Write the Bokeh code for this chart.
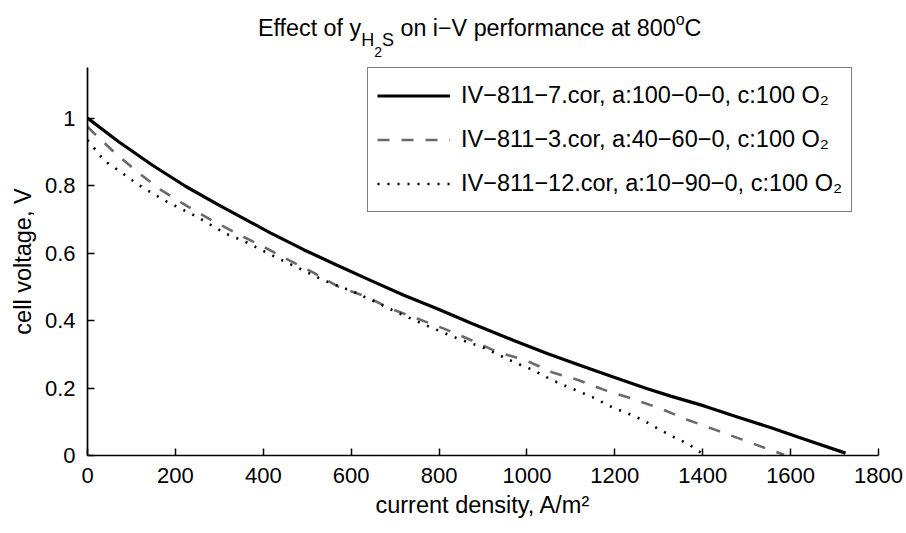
from bokeh.plotting import figure
from bokeh.layouts import column
from bokeh.models import (Legend, LegendItem, FixedTicker, CustomJSTickFormatter,
                          Range1d, Div)
from bokeh.embed import file_html
from bokeh.resources import INLINE

# ---- data ----
i_100 = [0, 71, 147, 223, 299, 375, 416, 492, 568, 644, 720, 796, 872, 970,
         1046, 1122, 1198, 1274, 1327, 1403, 1479, 1554, 1630, 1725]
v_100 = [1.0, 0.930, 0.861, 0.798, 0.742, 0.689, 0.660, 0.610, 0.564, 0.519,
         0.475, 0.435, 0.393, 0.341, 0.302, 0.267, 0.232, 0.198, 0.176, 0.147,
         0.114, 0.083, 0.049, 0.007]

i_40 = [0, 11, 64, 113, 166, 223, 280, 337, 394, 458, 511, 572, 636, 690,
        750, 811, 875, 932, 997, 1057, 1118, 1179, 1240, 1304, 1365, 1429,
        1490, 1553, 1585]
v_40 = [0.975, 0.960, 0.895, 0.841, 0.788, 0.742, 0.699, 0.660, 0.623, 0.579,
        0.544, 0.500, 0.470, 0.435, 0.406, 0.376, 0.341, 0.307, 0.282, 0.247,
        0.223, 0.193, 0.168, 0.139, 0.106, 0.076, 0.047, 0.017, 0.002]

i_10 = [0, 22, 37, 75, 117, 181, 250, 314, 360, 428, 538, 606, 720, 788,
        838, 904, 970, 1016, 1058, 1103, 1149, 1194, 1240, 1262, 1327, 1350,
        1372, 1400]
v_10 = [0.935, 0.900, 0.875, 0.841, 0.801, 0.752, 0.707, 0.658, 0.633, 0.588,
        0.519, 0.485, 0.415, 0.376, 0.349, 0.318, 0.277, 0.252, 0.223, 0.198,
        0.173, 0.143, 0.119, 0.106, 0.059, 0.045, 0.030, 0.005]

labels = ["IV\u2212811\u22127.cor, a:100\u22120\u22120, c:100 O\u2082",
          "IV\u2212811\u22123.cor, a:40\u221260\u22120, c:100 O\u2082",
          "IV\u2212811\u221212.cor, a:10\u221290\u22120, c:100 O\u2082"]

x_ticks = [0, 200, 400, 600, 800, 1000, 1200, 1400, 1600, 1800]
y_ticks = [0, 0.2, 0.4, 0.6, 0.8, 1]

FONT = "Liberation Sans"

title_html = (
    '<div style="font-family:\'Liberation Sans\';font-size:23.3px;color:black;'
    'white-space:nowrap;margin-left:258px;padding-top:8px;line-height:23px">'
    'Effect of y'
    '<span style="font-size:18px;vertical-align:-10px">H'
    '<span style="font-size:14px;vertical-align:-11px">2</span>S</span>'
    ' on i\u2212V performance at 800'
    '<span style="font-size:16px;vertical-align:11px">o</span>C'
    '</div>'
)
title_div = Div(text=title_html, width=906, height=67, margin=0)

p = figure(width=906, height=466, output_backend="svg", toolbar_location=None,
           x_range=Range1d(0, 1800), y_range=Range1d(0, 1.15),
           min_border_left=87, min_border_right=28, min_border_top=0,
           min_border_bottom=78, margin=0)
p.outline_line_color = None
p.grid.visible = False
p.background_fill_color = "white"
p.border_fill_color = "white"

r1 = p.line(i_100, v_100, line_color="black", line_width=3.2)
r2 = p.line(i_40, v_40, line_color="#6a6a6a", line_width=2.6, line_dash="12 12")
r3 = p.line(i_10, v_10, line_color="black", line_width=2.6, line_dash="2 8")

for ax in (p.xaxis[0], p.yaxis[0]):
    ax.axis_line_color = "black"
    ax.axis_line_width = 1.7
    ax.major_tick_in = 7
    ax.major_tick_out = 0
    ax.minor_tick_line_color = None
    ax.major_tick_line_color = "black"
    ax.major_tick_line_width = 1.5
    ax.major_label_text_font = FONT
    ax.major_label_text_font_size = "22px"
    ax.major_label_text_color = "black"
    ax.axis_label_text_font = FONT
    ax.axis_label_text_font_size = "23.5px"
    ax.axis_label_text_font_style = "normal"
    ax.axis_label_text_color = "black"
    ax.major_label_standoff = 12

p.xaxis.ticker = FixedTicker(ticks=x_ticks)
p.yaxis.ticker = FixedTicker(ticks=y_ticks)
p.yaxis.formatter = CustomJSTickFormatter(code="return tick.toString()")
p.xaxis.axis_label = "current density, A/m\u00b2"
p.yaxis.axis_label = "cell voltage, V"
p.xaxis.axis_label_standoff = 6
p.yaxis.axis_label_standoff = 6

legend = Legend(items=[LegendItem(label=labels[0], renderers=[r1]),
                       LegendItem(label=labels[1], renderers=[r2]),
                       LegendItem(label=labels[2], renderers=[r3])],
                location=(280, 243))
legend.label_text_font = FONT
legend.label_text_font_size = "23.5px"
legend.label_text_color = "black"
legend.glyph_width = 73
legend.glyph_height = 37
legend.label_height = 37
legend.spacing = 7
legend.padding = 9
legend.margin = 0
legend.label_standoff = 11
legend.border_line_color = "black"
legend.border_line_width = 1
legend.background_fill_color = "white"
legend.background_fill_alpha = 1
p.add_layout(legend, "center")

layout = column(title_div, p, spacing=0, margin=0)
open("out.html", "w").write(file_html(layout, INLINE))
